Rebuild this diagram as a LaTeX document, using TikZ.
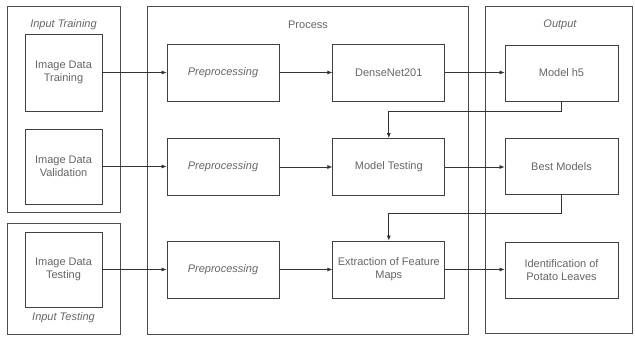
\documentclass[tikz,border=0pt]{standalone}
\usepackage{fontspec}
\setmainfont{Liberation Sans}
\usetikzlibrary{positioning, arrows.meta, shadows}

\begin{document}
\begin{tikzpicture}[x=1pt, y=-1pt,
        txt/.style={font=\fontsize{11}{13}\selectfont, text=black!60},
        itxt/.style={font=\fontsize{11}{13}\selectfont\itshape},
        grp/.style={draw=black!70, line width=0.8pt, fill=white,
                    drop shadow={shadow xshift=1pt, shadow yshift=-1.2pt, opacity=0.35}},
        grplbl/.style={txt, inner sep=1pt},
        inbox/.style={draw=black!75, line width=0.8pt, txt, align=center,
                      minimum width=77pt, minimum height=75pt, inner sep=2pt},
        stepbox/.style={draw=black!75, line width=0.8pt, txt, align=center,
                        minimum width=112pt, minimum height=57pt, inner sep=2pt},
        arr/.style={-{Latex[length=5pt, width=4pt]}, line width=0.7pt, black!80},
    ]
    \useasboundingbox (0,0) rectangle (635,339);

    % Containers
    \draw[grp] (7,6) rectangle (120,212);
    \draw[grp] (7,223) rectangle (120,334);
    \draw[grp] (147,6) rectangle (468,334);
    \draw[grp] (485,6) rectangle (632,333);

    \node[grplbl, itxt] (lbltrain) at (63.5,25) {Input Training};
    \node[grplbl, itxt] (lbltest) at (63.5,318) {Input Testing};
    \node[grplbl] (lblproc) at (308,25) {Process};
    \node[grplbl, itxt] (lblout) at (560,25) {Output};

    % Input column
    \node[inbox, minimum height=77pt] (train) at (63.5,72.5) {Image Data\\Training};
    \node[inbox] (valid) at (63.5,166.5) {Image Data\\Validation};
    \node[inbox] (test) at (63.5,269.5) {Image Data\\Testing};

    % Process column
    \node[stepbox, itxt] (pre1) at (223,72.5) {Preprocessing};
    \node[stepbox, itxt] (pre2) at (223,167) {Preprocessing};
    \node[stepbox, itxt] (pre3) at (223,269.5) {Preprocessing};
    \node[stepbox, right=53pt of pre1] (dense) {DenseNet201};
    \node[stepbox, right=53pt of pre2] (mtest) {Model Testing};
    \node[stepbox, right=53pt of pre3] (extract) {Extraction of Feature\\Maps};

    % Output column
    \node[stepbox, minimum width=113pt, minimum height=56pt] (mh5) at (561.5,73) {Model h5};
    \node[stepbox, minimum width=113pt, minimum height=56pt] (best) at (561.5,166.5) {Best Models};
    \node[stepbox, minimum width=113pt, minimum height=56pt] (ident) at (561.5,270) {Identification of\\Potato Leaves};

    % Flow
    \draw[arr] (train) -- (pre1);
    \draw[arr] (valid.east) -- (valid.east -| pre2.west);
    \draw[arr] (test) -- (pre3);
    \draw[arr] (pre1) -- (dense);
    \draw[arr] (pre2) -- (mtest);
    \draw[arr] (pre3) -- (extract);
    \draw[arr] (dense) -- (mh5.west |- dense);
    \draw[arr] (mtest) -- (best.west |- mtest);
    \draw[arr] (extract) -- (ident.west |- extract);

    % Feedback
    \draw[arr] (mh5.south) -- ++(0,10) -| (mtest.north);
    \draw[arr] (best.south) -- ++(0,18) -| (extract.north);
\end{tikzpicture}
\end{document}
